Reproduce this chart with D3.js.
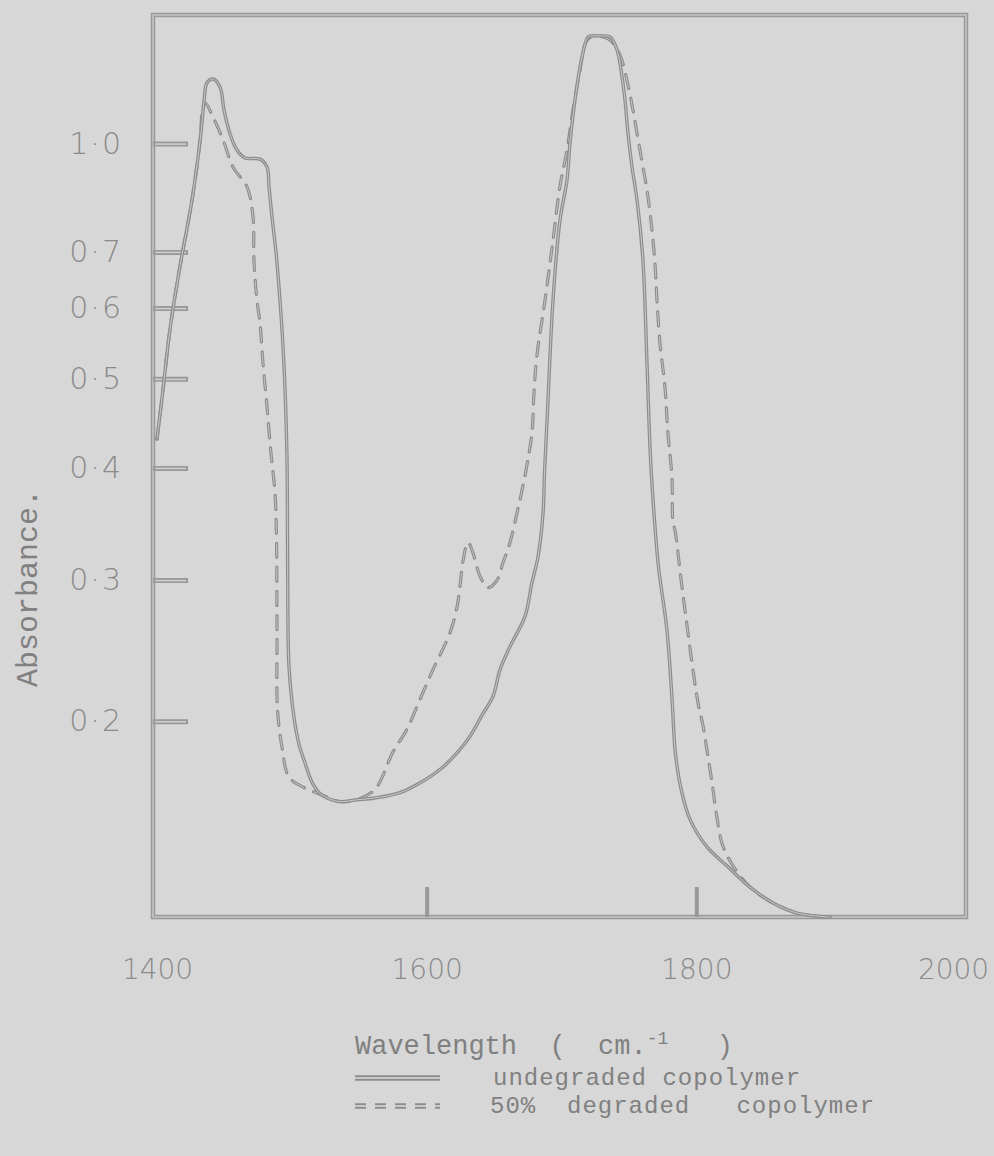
<!DOCTYPE html>
<html>
<head>
<meta charset="utf-8">
<script src="https://cdn.jsdelivr.net/npm/d3@7"></script>
<style>
body { margin: 0; background: #d7d7d7; }
svg { display: block; }
.typed { font-family: "Liberation Mono", "DejaVu Sans Mono", monospace; fill: #808080; white-space: pre; }
.num { font-family: "DejaVu Sans", sans-serif; font-weight: 200; fill: #8a8a8a; }
</style>
</head>
<body>
<svg width="994" height="1156"></svg>
<script>
// wavenumber (cm-1) and absorbance
var undegWave = [1400, 1404, 1409.6, 1417, 1426, 1432, 1435, 1437, 1441.5, 1446.7, 1449.7, 1454, 1459.3, 1465.3, 1476.4,
    1481.6, 1483.1, 1485.3, 1488.3, 1491.2, 1492.7, 1494.1, 1494.9, 1496.4, 1496.8, 1497.1, 1497.9, 1501.5, 1505.5, 1509.5,
    1515, 1521.6, 1535, 1548.3, 1561.7, 1580.2, 1595.8, 1612.1, 1630, 1641.8, 1649.2, 1654.4, 1661.8, 1672.9, 1678.1,
    1682.6, 1686.3, 1687.4, 1690, 1693.7, 1698.9, 1704.1, 1706.3, 1710, 1715.2, 1719.7, 1722.6, 1728.6, 1736, 1741.2,
    1744.9, 1747.1, 1749.3, 1752.3, 1756, 1760.4, 1763.4, 1766, 1769, 1772, 1778.2, 1782, 1784.5, 1789, 1795.3,
    1807.9, 1822.7, 1839.8, 1856.9, 1874.7, 1899];
var undegAbs = [0.43, 0.48, 0.567, 0.671, 0.819, 1.015, 1.222, 1.354, 1.391, 1.319, 1.16, 1.044, 0.975, 0.946, 0.942,
    0.915, 0.854, 0.776, 0.698, 0.613, 0.567, 0.52, 0.49, 0.41, 0.33, 0.27, 0.236, 0.203, 0.185, 0.175,
    0.163, 0.156, 0.152, 0.153, 0.154, 0.157, 0.163, 0.172, 0.188, 0.205, 0.216, 0.234, 0.25, 0.272, 0.298,
    0.319, 0.357, 0.395, 0.474, 0.613, 0.769, 0.875, 1.003, 1.222, 1.69, 2.69, 3.0, 3.0, 2.69, 1.855,
    1.411, 1.222, 1.044, 0.915, 0.819, 0.684, 0.52, 0.41, 0.35, 0.31, 0.262, 0.214, 0.18, 0.158, 0.142,
    0.127, 0.117, 0.106, 0.098, 0.093, 0.091];

var degWave = [1400, 1404, 1409.6, 1417, 1426, 1432, 1434.1, 1436, 1441.5, 1449, 1456.4, 1466.8, 1471.2, 1471.9, 1474.1,
    1476.4, 1478.6, 1481.6, 1484.5, 1487.5, 1488.6, 1489, 1489.4, 1492.7, 1497.9, 1509, 1521.6, 1535, 1548.3, 1561.7,
    1575, 1585.4, 1595, 1604.7, 1617.3, 1622.5, 1624.7, 1627, 1630.7, 1634.4, 1639.6, 1645.5, 1652.2, 1656.6, 1661.8,
    1667, 1670.7, 1674.4, 1678.1, 1679.6, 1681.8, 1687.8, 1693.7, 1698.9, 1704.1, 1708.5, 1713.7, 1718.2, 1722.6, 1728.6,
    1736, 1743.4, 1749.3, 1753, 1756, 1760.4, 1763.4, 1767.1, 1769.3, 1770.8, 1773, 1776.7, 1778.9, 1781.9, 1782.7,
    1784.1, 1789.3, 1801.2, 1805, 1807.9, 1811.6, 1815.3, 1819, 1827.2, 1839.8, 1856.9, 1874.7, 1899];
var degAbs = [0.43, 0.48, 0.567, 0.671, 0.819, 1.015, 1.178, 1.2, 1.122, 1.015, 0.915, 0.854, 0.776, 0.684, 0.613,
    0.577, 0.52, 0.466, 0.415, 0.376, 0.336, 0.26, 0.207, 0.184, 0.166, 0.16, 0.156, 0.152, 0.153, 0.159,
    0.181, 0.195, 0.214, 0.234, 0.26, 0.279, 0.295, 0.316, 0.331, 0.322, 0.303, 0.294, 0.3, 0.314, 0.331,
    0.357, 0.378, 0.403, 0.437, 0.483, 0.531, 0.613, 0.724, 0.857, 0.975, 1.16, 1.49, 2.18, 2.9, 2.9,
    2.32, 1.73, 1.336, 1.16, 1.044, 0.915, 0.846, 0.746, 0.678, 0.613, 0.548, 0.49, 0.437, 0.391, 0.348,
    0.342, 0.295, 0.212, 0.197, 0.182, 0.163, 0.143, 0.129, 0.117, 0.106, 0.098, 0.093, 0.091];

var absTicks = [1.0, 0.7, 0.6, 0.5, 0.4, 0.3, 0.2];
var absLabels = ["1·0", "0·7", "0·6", "0·5", "0·4", "0·3", "0·2"];
var waveTicks = [1400, 1600, 1800, 2000];
var legendNames = ["undegraded copolymer", "50%  degraded   copolymer"];

var svg = d3.select("svg"),
    plotL = 153, plotR = 966, plotT = 15, plotB = 917,
    ink = "#8c8c8c", paper = "#d7d7d7";

svg.append("rect").attr("width", 994).attr("height", 1156).attr("fill", paper);

var x = d3.scaleLinear().domain([1400, 2000]).range([157, 966]);
// the chart paper is linear in transmittance, the labels are absorbance
var t = d3.scaleLinear().domain([0, 1]).range([34.8, 1122.8]);
function y(a) { return t(Math.pow(10, -a)); }

var line = d3.line()
    .x(function(d) { return x(d[0]); })
    .y(function(d) { return y(d[1]); })
    .curve(d3.curveCatmullRom.alpha(0.5));

var undeg = d3.zip(undegWave, undegAbs),
    deg = d3.zip(degWave, degAbs);

// pen lines on the scan look hollow: a grey stroke with a pale core
function pen(sel, w, dash) {
    sel.attr("fill", "none").attr("stroke", ink).attr("stroke-width", w)
        .attr("stroke-linecap", "round").attr("stroke-dasharray", dash || null);
}
function core(sel, w, dash) {
    sel.attr("fill", "none").attr("stroke", "#c9c9c9").attr("stroke-width", w)
        .attr("stroke-dasharray", dash || null);
}

// frame
svg.append("rect").attr("x", plotL).attr("y", plotT).attr("width", plotR - plotL).attr("height", plotB - plotT)
    .call(pen, 4.5).attr("stroke", "#999");
svg.append("rect").attr("x", plotL).attr("y", plotT).attr("width", plotR - plotL).attr("height", plotB - plotT)
    .call(core, 1.4);

// y ticks (drawn inward, double line)
var yAxis = d3.axisLeft(t)
    .tickValues(absTicks.map(function(a) { return Math.pow(10, -a); }))
    .tickSize(-35)
    .tickPadding(30)
    .tickFormat(function(d, i) { return absLabels[i]; });

var gy = svg.append("g").attr("transform", "translate(" + plotL + ",0)").call(yAxis);
gy.select(".domain").remove();
gy.selectAll(".tick line").attr("stroke", "#999").attr("stroke-width", 5);
gy.selectAll(".tick").append("line").attr("x1", 2).attr("x2", 33).attr("stroke", "#cdcdcd").attr("stroke-width", 1.6);
gy.selectAll(".tick text").attr("class", "num").attr("font-size", 30).attr("letter-spacing", 2);

// x ticks
var xAxis = d3.axisBottom(x)
    .tickValues(waveTicks)
    .tickSize(-30)
    .tickPadding(42)
    .tickFormat(d3.format("d"));

var gx = svg.append("g").attr("transform", "translate(0," + plotB + ")").call(xAxis);
gx.select(".domain").remove();
gx.selectAll(".tick line").attr("stroke", "#999").attr("stroke-width", 4)
    .style("display", function(d) { return d == 1400 || d == 2000 ? "none" : null; });
gx.selectAll(".tick text").attr("class", "num").attr("font-size", 28)
    .attr("dx", function(d) { return d == 2000 ? -13 : 0; });

// traces: degraded first, undegraded on top
svg.append("path").datum(deg).attr("d", line).call(pen, 3.2, "14,10");
svg.append("path").datum(deg).attr("d", line).call(core, 0.9, "14,10");
svg.append("path").datum(undeg).attr("d", line).call(pen, 3.4);
svg.append("path").datum(undeg).attr("d", line).call(core, 1);

// axis titles
svg.append("text").attr("class", "typed")
    .attr("transform", "translate(37,588) rotate(-90)")
    .attr("text-anchor", "middle")
    .attr("font-size", 30)
    .text("Absorbance.");

var xt = svg.append("text").attr("class", "typed")
    .attr("x", 355).attr("y", 1054)
    .attr("font-size", 27);
xt.append("tspan").text("Wavelength  (  cm.");
xt.append("tspan").attr("dy", -10).attr("font-size", 18).text("-1");
xt.append("tspan").attr("dy", 10).text("   )");

// legend
var leg = svg.append("g").attr("transform", "translate(355,1078)");
legendNames.forEach(function(name, i) {
    var row = leg.append("g").attr("transform", "translate(0," + (i * 28) + ")");
    var dash = i == 0 ? null : "11,9";
    row.append("line").attr("x1", 0).attr("x2", 85).call(pen, 5.5, dash).attr("stroke-linecap", "butt");
    row.append("line").attr("x1", 0).attr("x2", 85).call(core, 2, dash);
    row.append("text").attr("class", "typed")
        .attr("x", i == 0 ? 138 : 135).attr("y", 7)
        .attr("font-size", 24)
        .attr("letter-spacing", 1)
        .text(name);
});
</script>
</body>
</html>
